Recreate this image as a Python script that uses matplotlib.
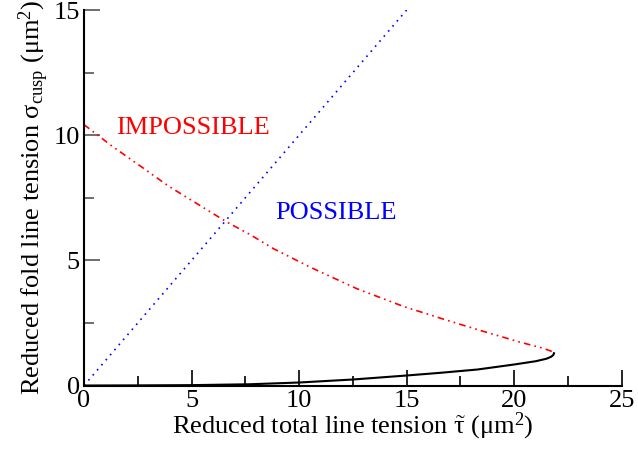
import matplotlib
matplotlib.use("Agg")
import matplotlib.pyplot as plt

plt.rcParams['font.family'] = ['Liberation Serif', 'DejaVu Serif']
plt.rcParams['mathtext.fontset'] = 'custom'
plt.rcParams['mathtext.rm'] = 'Liberation Serif'
plt.rcParams['mathtext.it'] = 'Liberation Serif:italic'

# boundary curves
bound_x = [0, 15]
bound_y = [0, 15]

upper_x = [0, 1.29, 2.68, 3.92, 5.24, 6.64, 7.72, 8.8, 10.51, 12.68, 14.85,
           16.79, 18.42, 20.28, 21.3, 21.7, 21.85]
upper_y = [10.42, 9.57, 8.73, 7.97, 7.27, 6.53, 6.03, 5.47, 4.73, 3.87, 3.16,
           2.63, 2.2, 1.73, 1.5, 1.38, 1.29]

lower_x = [0, 2.5, 5, 7.7, 10, 12.5, 15, 16.6, 18.3, 20, 21, 21.5, 21.72, 21.82, 21.85]
lower_y = [0, 0.005, 0.015, 0.05, 0.12, 0.24, 0.4, 0.51, 0.64, 0.84, 0.97, 1.07,
           1.15, 1.22, 1.29]

fig = plt.figure(figsize=(6.38, 4.51), dpi=100)
ax = fig.add_axes([0.1317, 0.1452, 0.8428, 0.8326])

ax.plot(bound_x, bound_y, color='blue', lw=1.2, linestyle=(0, (1, 3)))
ax.plot(upper_x, upper_y, color='red', lw=1.2, linestyle=(0, (4, 2.5, 1, 2.5, 1, 2.5)))
ax.plot(lower_x, lower_y, color='black', lw=1.5)

ax.text(1.5, 10.3, 'IMPOSSIBLE', color='red', fontsize=19, va='center')
ax.text(8.9, 6.9, 'POSSIBLE', color='blue', fontsize=19, va='center')

ax.set_xlim(0, 25)
ax.set_ylim(0, 15)
ax.set_xticks([0, 5, 10, 15, 20, 25])
ax.set_yticks([0, 5, 10, 15])
ax.set_xticks([2.5, 7.5, 12.5, 17.5, 22.5], minor=True)
ax.set_yticks([2.5, 7.5, 12.5], minor=True)

for s in ['top', 'right']:
    ax.spines[s].set_visible(False)
for s in ['left', 'bottom']:
    ax.spines[s].set_linewidth(1.5)

ax.tick_params(which='major', direction='in', length=11.5, width=1.2, labelsize=19, pad=3)
ax.tick_params(which='minor', direction='in', length=7.5, width=1.2)
ax.tick_params(axis='y', which='both', color='#555555')

ax.set_xlabel(r'Reduced total line tension $\mathrm{\tilde{\tau}}$ ($\mathrm{\mu}$m$^2$)',
              fontsize=19, labelpad=-1)
ax.set_ylabel(r'Reduced fold line tension $\mathrm{\sigma_{cusp}}$ ($\mathrm{\mu}$m$^2$)',
              fontsize=19, labelpad=2)

fig.savefig('out.png', dpi=100)
